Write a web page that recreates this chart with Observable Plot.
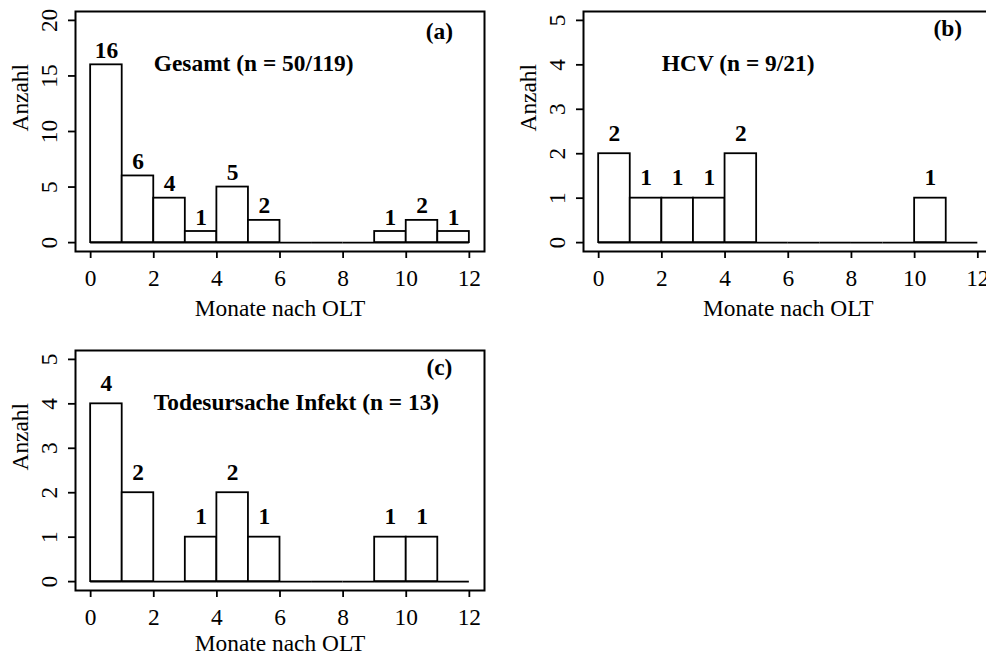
<!DOCTYPE html>
<html>
<head>
<meta charset="utf-8">
<script src="https://cdn.jsdelivr.net/npm/d3@7"></script>
<script src="https://cdn.jsdelivr.net/npm/@observablehq/plot@0.6"></script>
<style>
  html, body { margin: 0; padding: 0; background: #fff; }
  #figure { position: relative; width: 986px; height: 657px; overflow: hidden; background: #fff; }
  #figure svg, #figure svg text { font-family: "Liberation Serif", "Times New Roman", serif !important; }
</style>
</head>
<body>
<div id="figure"></div>
<script>
// Monthly bins after OLT (0–1, 1–2, …, 11–12 months)
const binStarts = [0, 1, 2, 3, 4, 5, 6, 7, 8, 9, 10, 11];
const countsGesamt = [16, 6, 4, 1, 5, 2, 0, 0, 0, 1, 2, 1];
const countsHCV = [2, 1, 1, 1, 2, 0, 0, 0, 0, 0, 1, 0];
const countsInfekt = [4, 2, 0, 1, 2, 1, 0, 0, 0, 1, 1, 0];

const xTicks = [0, 2, 4, 6, 8, 10, 12];
const yTicksGesamt = [0, 5, 10, 15, 20];
const yTicksSmall = [0, 1, 2, 3, 4, 5];

const panelTitles = ["Gesamt (n = 50/119)", "HCV (n = 9/21)", "Todesursache Infekt (n = 13)"];
const panelTags = ["(a)", "(b)", "(c)"];
const xLabel = "Monate nach OLT";
const yLabel = "Anzahl";

const FONT = "Liberation Serif";
const FS = 23.4;

function histogramPanel(cfg) {
  const bins = binStarts.map((s, i) => ({lo: s, hi: s + 1, n: cfg.counts[i]}));
  const filled = bins.filter(d => d.n > 0);
  const yMax = d3.max(cfg.yTicks);
  const xMin = d3.min(xTicks), xMax = d3.max(xTicks);
  const xPad = (xMax - xMin) * 0.04, yPad = yMax * 0.04;

  return Plot.plot({
    width: cfg.width,
    height: cfg.height,
    marginLeft: cfg.ml,
    marginRight: cfg.mr,
    marginTop: cfg.mt,
    marginBottom: cfg.mb,
    x: {domain: [xMin - xPad, xMax + xPad]},
    y: {domain: [-yPad, yMax + yPad]},
    style: {fontSize: FS + "px", color: "#000", background: "#fff", overflow: "visible"},
    marks: [
      // empty bins show as a flat line on the baseline
      Plot.ruleY(bins, {x1: "lo", x2: "hi", y: 0, stroke: "#000", strokeWidth: 1.8}),
      Plot.rectY(filled, {x1: "lo", x2: "hi", y: "n", fill: "#fff", stroke: "#000", strokeWidth: 1.8}),
      Plot.text(filled, {
        x: d => (d.lo + d.hi) / 2, y: "n", text: d => String(d.n),
        dy: cfg.labelDy, fontWeight: "bold", fontSize: FS, fontFamily: FONT, fill: "#000"
      }),
      Plot.text([cfg.title], {
        x: 2, y: cfg.titleY, text: d => d, textAnchor: "start",
        fontWeight: "bold", fontSize: FS, fontFamily: FONT, fill: "#000"
      }),
      Plot.text([cfg.tag], {
        x: 11.05, y: cfg.tagY, text: d => d,
        fontWeight: "bold", fontSize: FS, fontFamily: FONT, fill: "#000"
      }),
      Plot.frame({stroke: "#000", strokeWidth: 2}),
      Plot.axisX({
        ticks: xTicks, tickSize: 7, tickPadding: 11, strokeWidth: 1.8,
        tickFormat: d => String(d), label: null, fontSize: FS, fontFamily: FONT
      }),
      Plot.axisY({
        ticks: cfg.yTicks, tickSize: 7, tickPadding: 12, tickRotate: -90, strokeWidth: 1.8,
        tickFormat: d => String(d), label: null, fontSize: FS, fontFamily: FONT
      }),
      Plot.text([xLabel], {frameAnchor: "bottom", dy: cfg.xLabelDy, text: d => d, fontSize: FS, fontFamily: FONT, fill: "#000"}),
      Plot.text([yLabel], {frameAnchor: "left", dx: -55, rotate: -90, text: d => d, fontSize: FS, fontFamily: FONT, fill: "#000"})
    ]
  });
}

const figure = document.getElementById("figure");

const panels = [
  {counts: countsGesamt, yTicks: yTicksGesamt, title: panelTitles[0], tag: panelTags[0],
   titleY: 16.15, tagY: 19.0, labelDy: -14.5, xLabelDy: 64,
   left: 0, top: 0, width: 493, height: 320, ml: 75, mr: 9, mt: 11, mb: 69},
  {counts: countsHCV, yTicks: yTicksSmall, title: panelTitles[1], tag: panelTags[1],
   titleY: 4.03, tagY: 4.82, labelDy: -20.5, xLabelDy: 64,
   left: 493, top: 0, width: 510, height: 320, ml: 90, mr: 10.5, mt: 11, mb: 69},
  {counts: countsInfekt, yTicks: yTicksSmall, title: panelTitles[2], tag: panelTags[2],
   titleY: 4.04, tagY: 4.82, labelDy: -20.5, xLabelDy: 60,
   left: 0, top: 320, width: 493, height: 337, ml: 75, mr: 9, mt: 30, mb: 67}
];

for (const cfg of panels) {
  const svg = histogramPanel(cfg);
  svg.style.position = "absolute";
  svg.style.left = cfg.left + "px";
  svg.style.top = cfg.top + "px";
  svg.style.maxWidth = "none";
  figure.appendChild(svg);
}
</script>
</body>
</html>
